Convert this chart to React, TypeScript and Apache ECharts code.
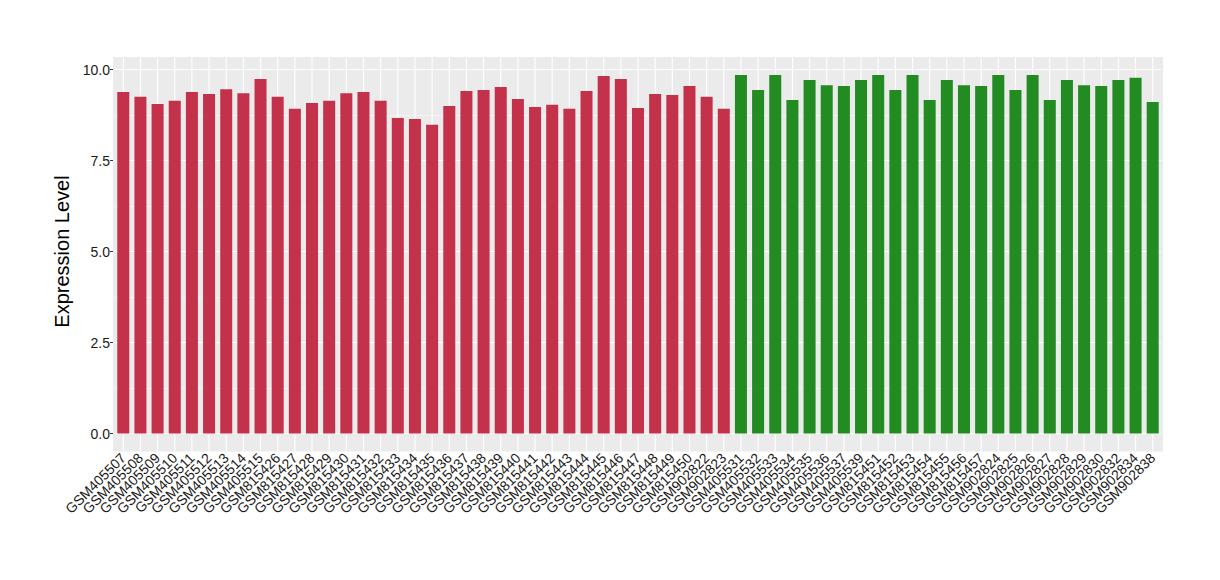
import React, { useEffect, useRef } from 'react';
import * as echarts from 'echarts';

const redSamples = [
  'GSM405507', 'GSM405508', 'GSM405509', 'GSM405510', 'GSM405511', 'GSM405512',
  'GSM405513', 'GSM405514', 'GSM405515', 'GSM815426', 'GSM815427', 'GSM815428',
  'GSM815429', 'GSM815430', 'GSM815431', 'GSM815432', 'GSM815433', 'GSM815434',
  'GSM815435', 'GSM815436', 'GSM815437', 'GSM815438', 'GSM815439', 'GSM815440',
  'GSM815441', 'GSM815442', 'GSM815443', 'GSM815444', 'GSM815445', 'GSM815446',
  'GSM815447', 'GSM815448', 'GSM815449', 'GSM815450', 'GSM902822', 'GSM902823',
];
const greenSamples = [
  'GSM405531', 'GSM405532', 'GSM405533', 'GSM405534', 'GSM405535', 'GSM405536',
  'GSM405537', 'GSM405539', 'GSM815451', 'GSM815452', 'GSM815453', 'GSM815454',
  'GSM815455', 'GSM815456', 'GSM815457', 'GSM902824', 'GSM902825', 'GSM902826',
  'GSM902827', 'GSM902828', 'GSM902829', 'GSM902830', 'GSM902832', 'GSM902834',
  'GSM902838',
];
const redValues = [
  9.38, 9.25, 9.05, 9.14, 9.38, 9.33, 9.46, 9.35, 9.74, 9.25, 8.92, 9.08,
  9.14, 9.35, 9.38, 9.14, 8.67, 8.64, 8.48, 9.0, 9.41, 9.44, 9.52, 9.19,
  8.97, 9.03, 8.92, 9.41, 9.82, 9.74, 8.94, 9.33, 9.3, 9.55, 9.25, 8.92,
];
const greenValues = [
  9.85, 9.44, 9.85, 9.16, 9.71, 9.57, 9.55, 9.71, 9.85, 9.44, 9.85, 9.16,
  9.71, 9.57, 9.55, 9.85, 9.44, 9.85, 9.16, 9.71, 9.57, 9.55, 9.71, 9.77,
  9.11,
];
const yMin = 0;
const yMax = 10;
const yInterval = 2.5;

const RED = '#C3314A';
const GREEN = '#228B22';
const FONT = 'Liberation Sans, Arial, Helvetica, sans-serif';
const PANEL = { x: 113, y: 57, width: 1050, height: 394.5 };

export default function App() {
  const ref = useRef<HTMLDivElement>(null);
  useEffect(() => {
    document.body.style.margin = '0';
    const chart = echarts.init(ref.current!, null, { renderer: 'svg' });
    const categories = [...redSamples, ...greenSamples];
    const data = [
      ...redValues.map((v) => ({ value: v, itemStyle: { color: RED } })),
      ...greenValues.map((v) => ({ value: v, itemStyle: { color: GREEN } })),
    ];
    chart.setOption({
      animation: false,
      textStyle: { fontFamily: FONT },
      graphic: [
        {
          type: 'rect',
          z: -10,
          silent: true,
          shape: { ...PANEL },
          style: { fill: '#EBEBEB' },
        },
      ],
      grid: { left: 114.7, right: 58.7, top: 69.5, bottom: 146.5 },
      xAxis: {
        type: 'category',
        data: categories,
        offset: 18,
        axisLine: { show: false },
        axisTick: { alignWithLabel: true, length: 4, lineStyle: { color: '#333333' } },
        splitLine: { show: false },
        axisLabel: {
          rotate: 45,
          interval: 0,
          fontSize: 14,
          color: '#1A1A1A',
          margin: 4,
          fontFamily: FONT,
        },
      },
      yAxis: {
        type: 'value',
        min: yMin,
        max: yMax,
        interval: yInterval,
        offset: 1.7,
        name: 'Expression Level',
        nameLocation: 'middle',
        nameGap: 38,
        nameTextStyle: { fontSize: 20, color: '#000000', fontFamily: FONT },
        axisLine: { show: false },
        axisTick: { show: true, length: 3, lineStyle: { color: '#333333' } },
        axisLabel: {
          formatter: (v: number) => v.toFixed(1),
          fontSize: 14,
          color: '#1A1A1A',
          margin: 3,
          fontFamily: FONT,
        },
        splitLine: { show: true, lineStyle: { color: '#FFFFFF', width: 1.1 } },
        minorTick: { show: false, splitNumber: 2 },
        minorSplitLine: { show: true, lineStyle: { color: '#FFFFFF', width: 0.5 } },
      },
      series: [
        {
          type: 'custom',
          z: 1,
          silent: true,
          clip: false,
          data: categories.map((c) => [c, 0]),
          encode: { x: 0, y: 1 },
          renderItem: (params: any, api: any) => {
            const x = api.coord([api.value(0), 0])[0];
            return {
              type: 'line',
              shape: { x1: x, y1: PANEL.y, x2: x, y2: PANEL.y + PANEL.height },
              style: { stroke: '#FFFFFF', lineWidth: 1.1 },
            };
          },
        },
        { type: 'bar', z: 2, data, barWidth: '70%' },
      ],
    });
    return () => chart.dispose();
  }, []);
  return <div ref={ref} style={{ width: 1220, height: 580 }} />;
}
